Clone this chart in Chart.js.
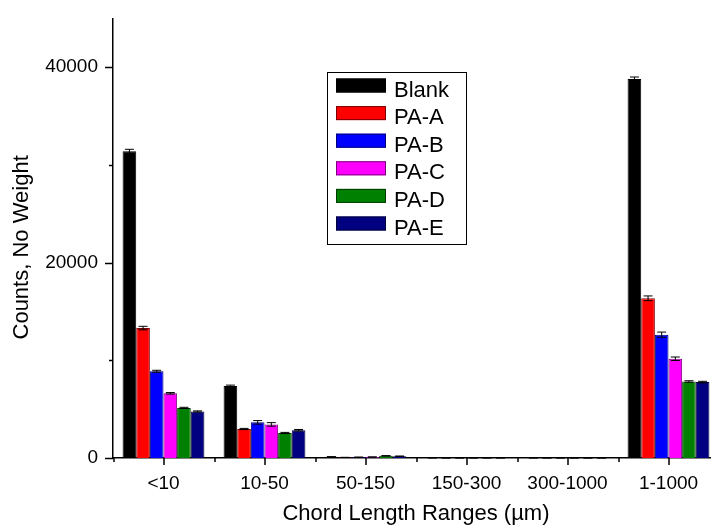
<!DOCTYPE html>
<html>
<head>
<meta charset="utf-8">
<script src="https://cdn.jsdelivr.net/npm/chart.js@4/dist/chart.umd.min.js"></script>
<style>
  html, body { margin:0; padding:0; background:#fff; }
  #wrap { width:711px; height:527px; overflow:hidden; position:relative; }
</style>
</head>
<body>
<div id="wrap"><canvas id="chart" width="722" height="527"></canvas></div>
<script>
// data
const categories = ['<10', '10-50', '50-150', '150-300', '300-1000', '1-1000'];
const seriesNames = ['Blank', 'PA-A', 'PA-B', 'PA-C', 'PA-D', 'PA-E'];
const blank = [31400, 7360, 120, 15, 10, 38800];
const paA   = [13300, 2970, 60, 8, 5, 16350];
const paB   = [8880, 3650, 80, 8, 5, 12620];
const paC   = [6620, 3440, 100, 8, 5, 10160];
const paD   = [5130, 2560, 220, 10, 5, 7830];
const paE   = [4760, 2840, 180, 10, 5, 7770];
// standard errors
const blankErr = [200, 100, 20, 5, 5, 200];
const paAErr   = [180, 60, 10, 3, 3, 240];
const paBErr   = [100, 180, 10, 3, 3, 270];
const paCErr   = [80, 180, 10, 3, 3, 180];
const paDErr   = [60, 60, 20, 3, 3, 80];
const paEErr   = [60, 80, 20, 3, 3, 80];
const yTicks = [0, 20000, 40000];
const yMinorTicks = [10000, 30000];

const FONT = 'Arial, "Liberation Sans", sans-serif';
const fills   = ['#000000', '#ff0000', '#0000ff', '#ff00ff', '#008000', '#000080'];
const borders = ['#000000', '#7a0000', '#00007a', '#7a007a', '#003c00', '#00003c'];

const values = [blank, paA, paB, paC, paD, paE];
const errors = [blankErr, paAErr, paBErr, paCErr, paDErr, paEErr];

// error bars, tick marks and the boxed legend
const extras = {
  id: 'extras',
  afterDatasetsDraw(chart){
    const ctx = chart.ctx, y = chart.scales.y;
    ctx.save();
    ctx.strokeStyle = '#000';
    ctx.lineWidth = 1;
    chart.data.datasets.forEach((ds, i) => {
      chart.getDatasetMeta(i).data.forEach((bar, j) => {
        const v = ds.data[j], e = errors[i][j];
        const yt = y.getPixelForValue(v + e), yb = y.getPixelForValue(v - e);
        ctx.beginPath();
        ctx.moveTo(bar.x, yt); ctx.lineTo(bar.x, yb);
        ctx.moveTo(bar.x - 4.5, yt); ctx.lineTo(bar.x + 4.5, yt);
        ctx.moveTo(bar.x - 4.5, yb); ctx.lineTo(bar.x + 4.5, yb);
        ctx.stroke();
      });
    });
    ctx.restore();
  },
  afterDraw(chart){
    const ctx = chart.ctx, x = chart.scales.x, y = chart.scales.y;
    const a = chart.chartArea;
    const half = (x.getPixelForValue(1) - x.getPixelForValue(0)) / 2;
    ctx.save();
    ctx.strokeStyle = '#000';
    ctx.lineWidth = 1.5;
    ctx.beginPath();
    yTicks.forEach(v => { const p = Math.round(y.getPixelForValue(v)) + 0.5; ctx.moveTo(a.left - 8, p); ctx.lineTo(a.left, p); });
    yMinorTicks.forEach(v => { const p = Math.round(y.getPixelForValue(v)) + 0.5; ctx.moveTo(a.left - 4, p); ctx.lineTo(a.left, p); });
    categories.forEach((c, i) => {
      const p = Math.round(x.getPixelForValue(i));
      ctx.moveTo(p, a.bottom); ctx.lineTo(p, a.bottom + 7);
      const b = Math.round(p - half);
      ctx.moveTo(b, a.bottom); ctx.lineTo(b, a.bottom + 4);
    });
    ctx.stroke();

    // legend box
    const lx = 327, ly = 72, lw = 139, lh = 172;
    ctx.fillStyle = '#fff';
    ctx.fillRect(lx, ly, lw, lh);
    ctx.lineWidth = 1;
    ctx.strokeRect(lx + 0.5, ly + 0.5, lw, lh);
    ctx.font = '22px ' + FONT;
    ctx.textBaseline = 'middle';
    chart.data.datasets.forEach((ds, i) => {
      const cy = 85.5 + i * 27.6;
      ctx.fillStyle = ds.backgroundColor;
      ctx.fillRect(336, cy - 7, 50, 14);
      ctx.strokeStyle = ds.borderColor;
      ctx.strokeRect(336.5, cy - 6.5, 49, 13);
      ctx.fillStyle = '#000';
      ctx.fillText(ds.label, 394, cy + 5);
    });
    ctx.restore();
  }
};

new Chart(document.getElementById('chart'), {
  type: 'bar',
  data: {
    labels: categories,
    datasets: seriesNames.map((name, i) => ({
      label: name,
      data: values[i],
      backgroundColor: fills[i],
      borderColor: borders[i],
      borderWidth: 1,
      categoryPercentage: 0.81,
      barPercentage: 1.0
    }))
  },
  options: {
    responsive: false,
    animation: false,
    events: [],
    layout: { padding: { top: 14, right: 3, left: 0, bottom: 0 } },
    plugins: { legend: { display: false }, tooltip: { enabled: false } },
    scales: {
      x: {
        grid: { display: false },
        border: { display: true, color: '#000', width: 1.5 },
        ticks: { color: '#000', font: { family: FONT, size: 19 }, padding: 6, maxRotation: 0 },
        title: { display: true, text: 'Chord Length Ranges (µm)', color: '#000', font: { family: FONT, size: 22 }, padding: { top: 0, bottom: 0 } },
        afterFit(s){ s.height = 527 - 458; }
      },
      y: {
        min: 0, max: 45000,
        grid: { display: false },
        border: { display: true, color: '#000', width: 1.5 },
        ticks: { color: '#000', font: { family: FONT, size: 19 }, padding: 7, callback: v => String(v) },
        afterBuildTicks(s){ s.ticks = yTicks.map(v => ({ value: v })); },
        title: { display: true, text: 'Counts, No Weight\u00a0\u00a0\u00a0', color: '#000', font: { family: FONT, size: 22 }, padding: { top: 9, bottom: 0 } },
        afterFit(s){ s.width = 113; }
      }
    }
  },
  plugins: [extras]
});
</script>
</body>
</html>
